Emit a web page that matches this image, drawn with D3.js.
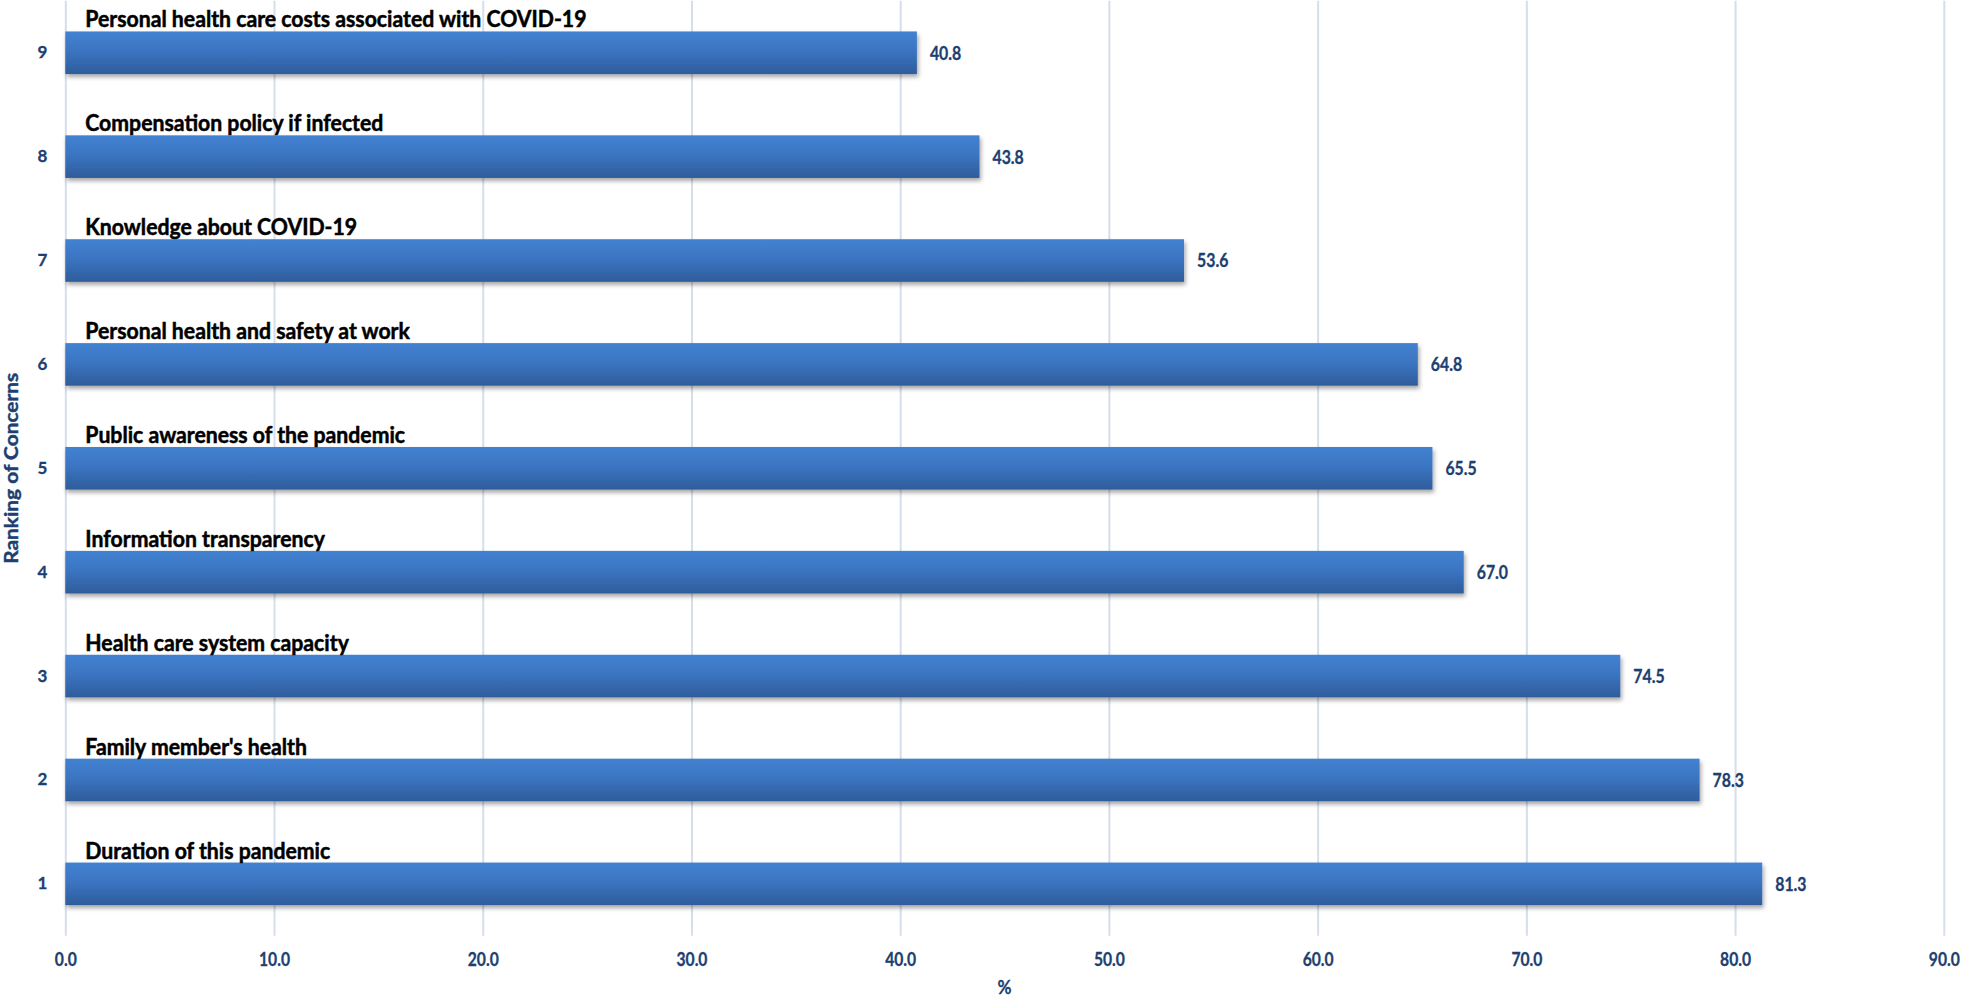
<!DOCTYPE html>
<html>
<head>
<meta charset="utf-8">
<script src="https://cdn.jsdelivr.net/npm/d3@7"></script>
<style>
  html, body { margin: 0; padding: 0; background: #fff; }
  svg { display: block; }
  text { font-family: Lato, "Noto Sans", "Liberation Sans", sans-serif; font-weight: 700; }
</style>
</head>
<body>
<script>
// ---- data ----
const ranks = ["1", "2", "3", "4", "5", "6", "7", "8", "9"];
const concerns = [
  "Duration of this pandemic",
  "Family member's health",
  "Health care system capacity",
  "Information transparency",
  "Public awareness of the pandemic",
  "Personal health and safety at work",
  "Knowledge about COVID-19",
  "Compensation policy if infected",
  "Personal health care costs associated with COVID-19"
];
const percents = [81.3, 78.3, 74.5, 67.0, 65.5, 64.8, 53.6, 43.8, 40.8];
const xTicks = [0, 10, 20, 30, 40, 50, 60, 70, 80, 90];
const xTitle = "%";
const yTitle = "Ranking of Concerns";

// ---- layout ----
const W = 1969, H = 997;
const plotLeft = 65.3, plotRight = 1943.8, plotTop = 0.8, plotBottom = 935.8;
const navy = "#203f70";

const data = ranks.map((r, i) => ({ rank: r, label: concerns[i], value: percents[i] }));

const svg = d3.select("body").append("svg").attr("width", W).attr("height", H);

const x = d3.scaleLinear().domain([0, 90]).range([plotLeft, plotRight]);
const y = d3.scaleBand().domain(ranks.slice().reverse()).range([plotTop, plotBottom])
  .paddingInner(0.59).paddingOuter(0.295);

const defs = svg.append("defs");
const grad = defs.append("linearGradient").attr("id", "barGrad")
  .attr("x1", 0).attr("y1", 0).attr("x2", 0).attr("y2", 1);
grad.append("stop").attr("offset", "0%").attr("stop-color", "#4282d1");
grad.append("stop").attr("offset", "45%").attr("stop-color", "#3b75c2");
grad.append("stop").attr("offset", "100%").attr("stop-color", "#2e5c9b");

const shadow = defs.append("filter").attr("id", "shadow")
  .attr("x", "-5%").attr("y", "-30%").attr("width", "110%").attr("height", "170%");
shadow.append("feDropShadow").attr("dx", 1.5).attr("dy", 3).attr("stdDeviation", 2)
  .attr("flood-color", "#000").attr("flood-opacity", 0.35);

// gridlines + x axis
const gx = svg.append("g").attr("transform", `translate(0,${plotBottom})`)
  .call(d3.axisBottom(x).tickValues(xTicks).tickFormat(d3.format(".1f"))
    .tickSize(-(plotBottom - plotTop)).tickPadding(17));
gx.select(".domain").remove();
gx.selectAll(".tick line").attr("stroke", "#d5deea").attr("stroke-width", 2);
gx.selectAll(".tick text")
  .attr("fill", navy).attr("stroke", navy).attr("stroke-width", 0.3)
  .attr("font-size", 18).attr("transform", "scale(0.87,1)")
  .style("font-family", "Lato, 'Noto Sans', sans-serif").style("font-weight", 700);

// y axis
const gy = svg.append("g").attr("transform", `translate(${plotLeft},0)`)
  .call(d3.axisLeft(y).tickSize(0).tickPadding(18));
gy.select(".domain").remove();
gy.selectAll(".tick text")
  .attr("fill", navy).attr("stroke", navy).attr("stroke-width", 0.3).attr("font-size", 17)
  .style("font-family", "Lato, 'Noto Sans', sans-serif").style("font-weight", 700);

// bars
svg.append("g").selectAll("rect").data(data).join("rect")
  .attr("x", x(0))
  .attr("y", d => y(d.rank))
  .attr("width", d => x(d.value) - x(0))
  .attr("height", y.bandwidth())
  .attr("fill", "url(#barGrad)")
  .attr("filter", "url(#shadow)");

// value labels
svg.append("g").selectAll("text").data(data).join("text")
  .attr("transform", d => `translate(${x(d.value) + 13},${y(d.rank) + y.bandwidth() / 2}) scale(0.88,1)`)
  .attr("dominant-baseline", "central")
  .attr("fill", navy).attr("stroke", navy).attr("stroke-width", 0.3).attr("font-size", 18)
  .text(d => d3.format(".1f")(d.value));

// category labels
svg.append("g").selectAll("text").data(data).join("text")
  .attr("transform", d => `translate(${x(0) + 20},${y(d.rank) - 4}) scale(0.965,1)`)
  .attr("fill", "#000").attr("stroke", "#000").attr("stroke-width", 0.5).attr("font-size", 22)
  .text(d => d.label);

// axis titles
svg.append("text")
  .attr("transform", `translate(${(plotLeft + plotRight) / 2},994) scale(0.9,1)`)
  .attr("text-anchor", "middle")
  .attr("fill", navy).attr("stroke", navy).attr("stroke-width", 0.3).attr("font-size", 19).text(xTitle);

svg.append("text")
  .attr("transform", `translate(18,${(plotTop + plotBottom) / 2}) rotate(-90) scale(1.16,1)`)
  .attr("text-anchor", "middle")
  .attr("fill", navy).attr("stroke", navy).attr("stroke-width", 0.4).attr("font-size", 18).text(yTitle);
</script>
</body>
</html>
